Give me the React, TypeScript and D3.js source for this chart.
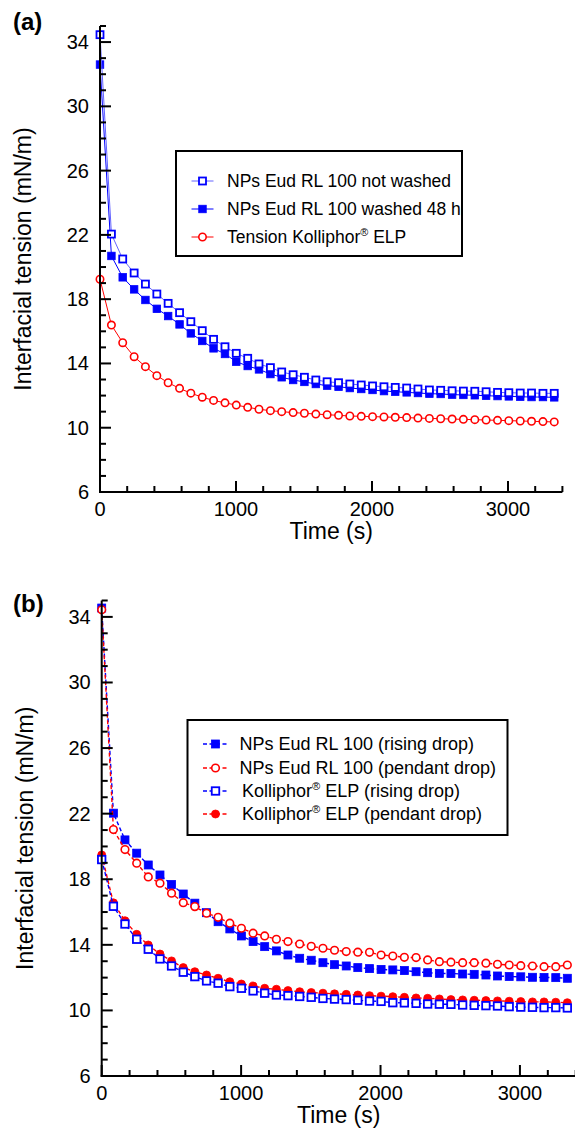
import React from 'react';
import * as d3 from 'd3';

// ---------- data ----------
const TIMES = [0, 84, 167, 251, 334, 418, 501, 585, 668, 752, 835, 919, 1002, 1086, 1169, 1253, 1336, 1420, 1503, 1587, 1670, 1754, 1837, 1921, 2004, 2088, 2171, 2255, 2338, 2422, 2505, 2589, 2672, 2756, 2839, 2923, 3006, 3090, 3173, 3257, 3340];

// panel (a)
const A_NOT_WASHED = [34.46, 22.05, 20.5, 19.63, 18.94, 18.32, 17.74, 17.16, 16.6, 16.04, 15.5, 15.04, 14.63, 14.32, 13.97, 13.74, 13.47, 13.3, 13.14, 12.97, 12.86, 12.8, 12.72, 12.66, 12.6, 12.55, 12.51, 12.47, 12.41, 12.35, 12.33, 12.3, 12.28, 12.27, 12.24, 12.2, 12.18, 12.16, 12.16, 12.14, 12.14];
const A_WASHED_48H = [32.6, 20.69, 19.36, 18.61, 17.95, 17.4, 16.95, 16.43, 15.87, 15.4, 14.94, 14.59, 14.11, 13.84, 13.63, 13.34, 13.14, 12.97, 12.85, 12.72, 12.62, 12.55, 12.47, 12.41, 12.35, 12.28, 12.24, 12.2, 12.16, 12.12, 12.1, 12.06, 12.04, 12.02, 11.99, 11.97, 11.95, 11.93, 11.91, 11.91, 11.89];
const A_KOLLIPHOR = [19.24, 16.39, 15.29, 14.42, 13.8, 13.24, 12.8, 12.45, 12.15, 11.9, 11.7, 11.55, 11.41, 11.27, 11.15, 11.06, 11.0, 10.94, 10.9, 10.85, 10.81, 10.77, 10.73, 10.71, 10.69, 10.67, 10.65, 10.63, 10.6, 10.58, 10.56, 10.54, 10.52, 10.5, 10.48, 10.46, 10.44, 10.42, 10.4, 10.38, 10.36];

// panel (b)
const B_NP_RISING = [34.54, 22.03, 20.4, 19.59, 18.87, 18.26, 17.68, 17.1, 16.54, 15.96, 15.41, 14.97, 14.54, 14.2, 13.89, 13.63, 13.38, 13.18, 13.06, 12.91, 12.79, 12.71, 12.61, 12.55, 12.5, 12.47, 12.43, 12.36, 12.3, 12.26, 12.25, 12.22, 12.2, 12.16, 12.1, 12.07, 12.05, 12.02, 12.01, 12.0, 11.96];
const B_NP_PENDANT = [34.43, 21.03, 19.81, 18.98, 18.14, 17.76, 17.15, 16.57, 16.33, 15.93, 15.68, 15.32, 15.01, 14.71, 14.54, 14.34, 14.2, 14.05, 13.91, 13.79, 13.67, 13.59, 13.55, 13.54, 13.38, 13.32, 13.24, 13.22, 13.08, 12.97, 12.94, 12.91, 12.91, 12.88, 12.81, 12.77, 12.73, 12.71, 12.67, 12.67, 12.77];
const B_K_RISING = [19.2, 16.35, 15.27, 14.34, 13.73, 13.14, 12.71, 12.33, 12.06, 11.8, 11.66, 11.45, 11.35, 11.19, 11.05, 10.94, 10.9, 10.85, 10.8, 10.73, 10.69, 10.66, 10.62, 10.57, 10.55, 10.47, 10.46, 10.43, 10.39, 10.38, 10.37, 10.33, 10.31, 10.29, 10.27, 10.23, 10.2, 10.19, 10.17, 10.17, 10.15];
const B_K_PENDANT = [19.48, 16.56, 15.47, 14.64, 13.99, 13.44, 13.02, 12.61, 12.36, 12.16, 11.96, 11.75, 11.61, 11.49, 11.35, 11.29, 11.21, 11.14, 11.09, 11.05, 11.01, 10.98, 10.94, 10.9, 10.87, 10.84, 10.8, 10.76, 10.74, 10.7, 10.66, 10.64, 10.62, 10.6, 10.58, 10.56, 10.54, 10.52, 10.52, 10.5, 10.47];

const X_MAJOR = [0, 1000, 2000, 3000];
const X_MINOR = [200, 400, 600, 800, 1200, 1400, 1600, 1800, 2200, 2400, 2600, 2800, 3200, 3400];
const Y_MAJOR = [6, 10, 14, 18, 22, 26, 30, 34];
const X_DOMAIN = [0, 3400];
const Y_DOMAIN = [6, 35];

const FONT = 'Liberation Sans, Arial, Helvetica, sans-serif';
const BLUE = '#0000ff';
const RED = '#ff0000';

type Marker = 'sqOpen' | 'sqFill' | 'cirOpen' | 'cirFill';

interface Series {
  values: number[];
  color: string;
  lineColor: string;
  marker: Marker;
  dash?: string;
  size: number;
}

function MarkerShape({ m, cx, cy, color, size }: { m: Marker; cx: number; cy: number; color: string; size: number }) {
  if (m === 'sqOpen' || m === 'sqFill') {
    return (
      <rect x={cx - size / 2} y={cy - size / 2} width={size} height={size}
        fill={m === 'sqFill' ? color : '#fff'} stroke={color} strokeWidth={m === 'sqFill' ? 0.8 : 1.8} />
    );
  }
  return (
    <circle cx={cx} cy={cy} r={size / 2} fill={m === 'cirFill' ? color : '#fff'} stroke={color}
      strokeWidth={m === 'cirFill' ? 0.8 : 1.6} />
  );
}

function Panel({ x0, x1, yBottom, yTop, series, label, labelY, titleX }: {
  x0: number; x1: number; yBottom: number; yTop: number; series: Series[]; label: string; labelY: number; titleX: number;
}) {
  const x = d3.scaleLinear().domain(X_DOMAIN).range([x0, x1]);
  const y = d3.scaleLinear().domain(Y_DOMAIN).range([yBottom, yTop]);
  const yMinor = d3.range(6, 36, 1).filter((v) => !Y_MAJOR.includes(v));
  return (
    <g>
      {series.map((s, si) => {
        const line = d3.line<number>().x((_, i) => x(TIMES[i])).y((v) => y(v));
        return (
          <g key={si}>
            <path d={line(s.values) || ''} fill="none" stroke={s.lineColor} strokeWidth={s.dash ? 1.4 : 1}
              strokeDasharray={s.dash} />
            {s.values.map((v, i) => (
              <MarkerShape key={i} m={s.marker} cx={x(TIMES[i])} cy={y(v)} color={s.color} size={s.size} />
            ))}
          </g>
        );
      })}
      {/* axes */}
      <line x1={x0} x2={x0} y1={yBottom + 1} y2={yTop} stroke="#000" strokeWidth={2} />
      <line x1={x0 - 1} x2={x1} y1={yBottom} y2={yBottom} stroke="#000" strokeWidth={2} />
      {Y_MAJOR.map((v) => (
        <g key={'ym' + v}>
          <line x1={x0} x2={x0 + 11} y1={y(v)} y2={y(v)} stroke="#000" strokeWidth={2} />
          <text x={x0 - 11} y={y(v) + 7} textAnchor="end" fontSize={20} fontFamily={FONT}>{v}</text>
        </g>
      ))}
      {yMinor.map((v) => (
        <line key={'yn' + v} x1={x0} x2={x0 + 6} y1={y(v)} y2={y(v)} stroke="#000" strokeWidth={2} />
      ))}
      {X_MAJOR.map((v) => (
        <g key={'xm' + v}>
          <line x1={x(v)} x2={x(v)} y1={yBottom} y2={yBottom - 11} stroke="#000" strokeWidth={2} />
          <text x={x(v)} y={yBottom + 24} textAnchor="middle" fontSize={20} fontFamily={FONT}>{v}</text>
        </g>
      ))}
      {X_MINOR.map((v) => (
        <line key={'xn' + v} x1={x(v)} x2={x(v)} y1={yBottom} y2={yBottom - 6} stroke="#000" strokeWidth={2} />
      ))}
      <text x={(x0 + x1) / 2} y={yBottom + 47} textAnchor="middle" fontSize={23} fontFamily={FONT}>Time (s)</text>
      <text transform={`translate(${titleX},${(yBottom + yTop) / 2}) rotate(-90)`} textAnchor="middle"
        fontSize={23} fontFamily={FONT}>Interfacial tension (mN/m)</text>
      <text x={13} y={labelY} fontSize={24} fontWeight="bold" fontFamily={FONT}>{label}</text>
    </g>
  );
}

function LegendItem({ x, y, s, text, fontSize, textX, lineLen }: {
  x: number; y: number; s: Series; text: React.ReactNode; fontSize: number; textX: number; lineLen: number;
}) {
  return (
    <g>
      <line x1={x} x2={x + lineLen} y1={y} y2={y} stroke={s.lineColor} strokeWidth={s.dash ? 1.4 : 1} strokeDasharray={s.dash} />
      <MarkerShape m={s.marker} cx={x + lineLen / 2} cy={y} color={s.color} size={s.size} />
      <text x={textX} y={y + fontSize * 0.36} fontSize={fontSize} fontFamily={FONT}>{text}</text>
    </g>
  );
}

const Reg = ({ fs }: { fs: number }) => (
  <tspan fontSize={fs * 0.62} dy={-fs * 0.42}>®</tspan>
);

export default function App() {
  const topSeries: Series[] = [
    { values: A_WASHED_48H, color: BLUE, lineColor: BLUE, marker: 'sqFill', size: 7.5 },
    { values: A_NOT_WASHED, color: BLUE, lineColor: '#6464ff', marker: 'sqOpen', size: 7 },
    { values: A_KOLLIPHOR, color: RED, lineColor: RED, marker: 'cirOpen', size: 7.4 },
  ];
  const botSeries: Series[] = [
    { values: B_K_PENDANT, color: RED, lineColor: RED, marker: 'cirFill', size: 8, dash: '4 2.5' },
    { values: B_K_RISING, color: BLUE, lineColor: BLUE, marker: 'sqOpen', size: 7.5, dash: '4 2.5' },
    { values: B_NP_RISING, color: BLUE, lineColor: BLUE, marker: 'sqFill', size: 8, dash: '4 2.5' },
    { values: B_NP_PENDANT, color: RED, lineColor: RED, marker: 'cirOpen', size: 7.6, dash: '4 2.5' },
  ];
  const fsA = 17.5;
  const fsB = 18;
  return (
    <svg width={575} height={1135} style={{ position: 'absolute', left: 0, top: 0, background: '#fff' }}>
      <rect width={575} height={1135} fill="#fff" />
      <Panel x0={100} x1={562.4} yBottom={492} yTop={26} series={topSeries} label="(a)" labelY={30} titleX={31} />
      <Panel x0={101.7} x1={575.7} yBottom={1076} yTop={600.5} series={botSeries} label="(b)" labelY={612} titleX={33} />

      {/* legend (a) */}
      <rect x={176} y={151} width={286} height={105} fill="#fff" stroke="#000" strokeWidth={2} />
      <LegendItem x={191.5} y={181} s={topSeries[1]} fontSize={fsA} textX={227} lineLen={22} text="NPs Eud RL 100 not washed" />
      <LegendItem x={191.5} y={209} s={topSeries[0]} fontSize={fsA} textX={227} lineLen={22} text="NPs Eud RL 100 washed 48 h" />
      <LegendItem x={191.5} y={237} s={topSeries[2]} fontSize={fsA} textX={227} lineLen={22}
        text={<>Tension Kolliphor<Reg fs={fsA} /><tspan dy={fsA * 0.42}> ELP</tspan></>} />

      {/* legend (b) */}
      <rect x={187.5} y={720} width={320} height={115} fill="#fff" stroke="#000" strokeWidth={2} />
      <LegendItem x={203} y={744} s={botSeries[2]} fontSize={fsB} textX={239.5} lineLen={25} text="NPs Eud RL 100 (rising drop)" />
      <LegendItem x={203} y={768} s={botSeries[3]} fontSize={fsB} textX={239.5} lineLen={25} text="NPs Eud RL 100 (pendant drop)" />
      <LegendItem x={203} y={791} s={botSeries[1]} fontSize={fsB} textX={242} lineLen={25}
        text={<>Kolliphor<Reg fs={fsB} /><tspan dy={fsB * 0.42}> ELP (rising drop)</tspan></>} />
      <LegendItem x={203} y={814} s={botSeries[0]} fontSize={fsB} textX={242} lineLen={25}
        text={<>Kolliphor<Reg fs={fsB} /><tspan dy={fsB * 0.42}> ELP (pendant drop)</tspan></>} />
    </svg>
  );
}
